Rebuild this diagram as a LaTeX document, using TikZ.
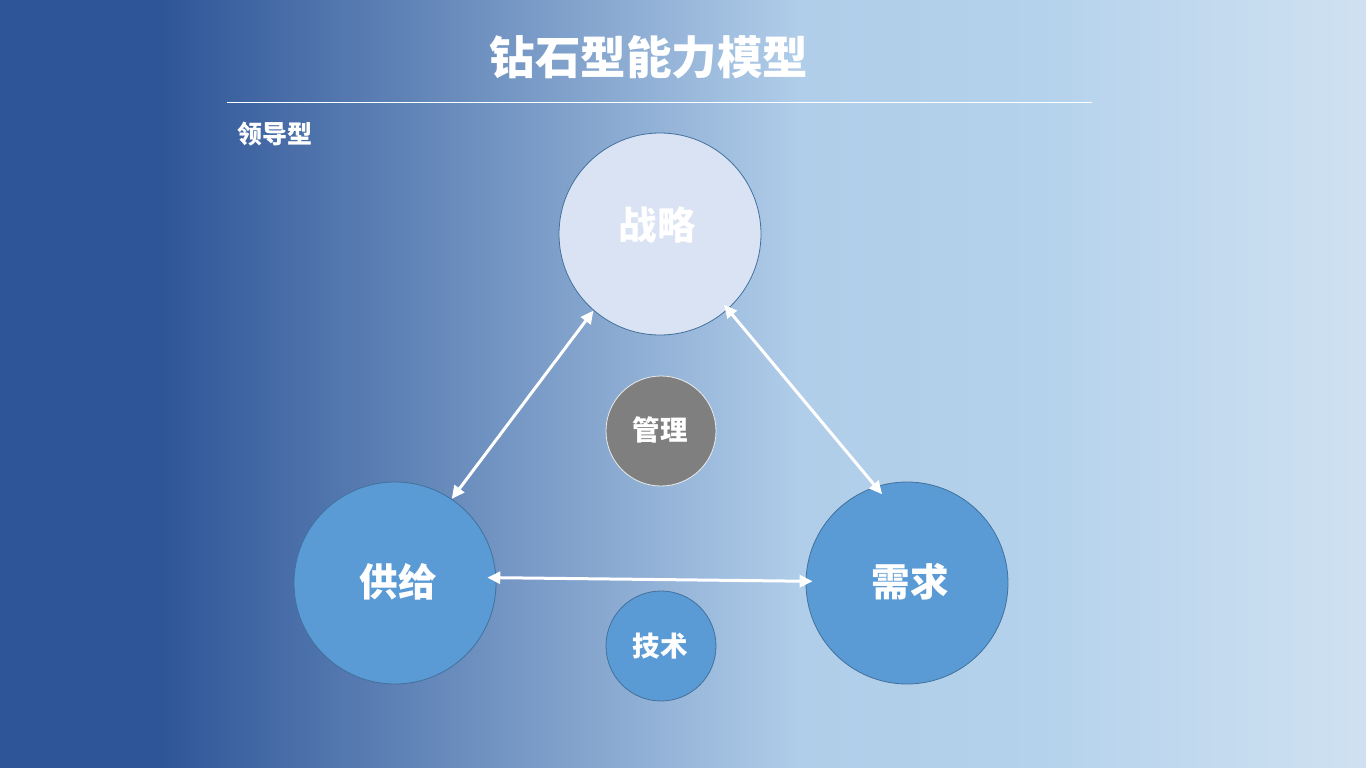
\documentclass[tikz,border=0pt]{standalone}
\usepackage{fontspec}
\newfontfamily\cjk{Noto Sans CJK SC}
\usetikzlibrary{arrows.meta}
\definecolor{bgA}{HTML}{2E5597}
\definecolor{bgB}{HTML}{B0CDE9}
\definecolor{bgC}{HTML}{B5D2EC}
\definecolor{bgD}{HTML}{CFE1F1}
\definecolor{lightfill}{HTML}{DAE3F3}
\definecolor{bluefill}{HTML}{5B9BD5}
\definecolor{edgeblue}{HTML}{41719C}
\definecolor{grayfill}{HTML}{7F7F7F}
\pgfdeclarehorizontalshading{bgshade}{100bp}{color(0bp)=(bgA); color(25bp)=(bgA); color(30.85bp)=(bgA); color(54.3bp)=(bgB); color(63.1bp)=(bgC); color(75bp)=(bgD); color(100bp)=(bgD)}
\tikzset{
  bigc/.style={circle, minimum size=202pt, inner sep=0pt, line width=0.8pt, draw=edgeblue},
  smallc/.style={circle, minimum size=110pt, inner sep=0pt, line width=0.8pt},
  lbl/.style={text=white, font=\cjk\bfseries\fontsize{38.5}{40}\selectfont, inner sep=0pt},
  slbl/.style={text=white, font=\cjk\bfseries\fontsize{27.5}{29}\selectfont, inner sep=0pt},
  arr/.style={draw=white, line width=3pt, {Triangle[length=13pt,width=12pt]}-{Triangle[length=13pt,width=12pt]}}
}
\begin{document}
\begin{tikzpicture}[x=1pt,y=-1pt]
\shade[shading=bgshade] (0,0) rectangle (1366,768);
\useasboundingbox (0,0) rectangle (1366,768);
\node[text=white, font=\cjk\bfseries\fontsize{45.5}{48}\selectfont, inner sep=0pt] (title) at (649,57) {钻石型能力模型};
\coordinate (ruleL) at (227,102);
\coordinate (ruleR) at (1092,102);
\draw[white, line width=0.9pt] (ruleL) -- (ruleR);
\node[text=white, font=\cjk\bfseries\fontsize{25}{27}\selectfont, inner sep=0pt, anchor=west] (sub) at (237,134) {领导型};
\node[bigc, fill=lightfill] (zl) at (660,234) {};
\node[lbl] (zlt) at (657,225) {战略};
\node[bigc, fill=bluefill] (gj) at (395,583) {};
\node[lbl] (gjt) at (398,582) {供给};
\node[bigc, fill=bluefill] (xq) at (907,583) {};
\node[lbl] (xqt) at (910,582) {需求};
\node[smallc, fill=grayfill, draw=white!85!gray] (gl) at (661,431) {};
\node[slbl] (glt) at (660,430) {管理};
\node[smallc, fill=bluefill, draw=edgeblue] (js) at (661,646) {};
\node[slbl] (jst) at (660,646) {技术};
\draw[arr] (zl.229) -- (gj.56);
\draw[arr, shorten <=-6pt, shorten >=-10pt] (zl.312) -- (xq.108);
\draw[arr, shorten <=-9pt, shorten >=-7pt] (gj.3) -- (xq.179);
\end{tikzpicture}
\end{document}
